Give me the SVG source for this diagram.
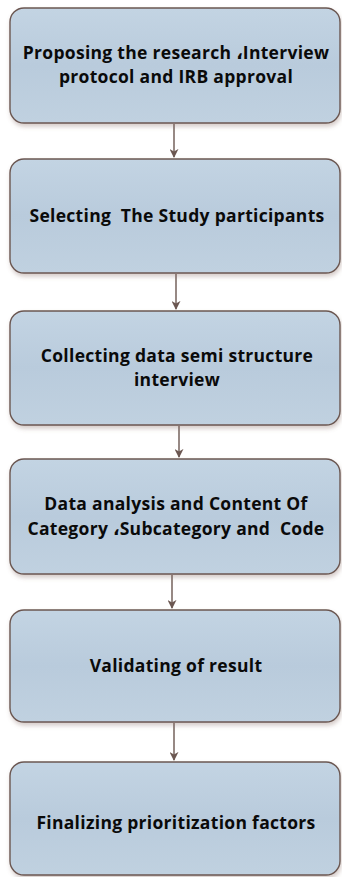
<svg xmlns="http://www.w3.org/2000/svg" width="342" height="877" viewBox="0 0 342 877">
  <style>
    .box { fill: url(#boxFill); stroke: #6b5751; stroke-width: 1.4; filter: url(#shadow); }
    .label { font-family: "Open Sans", "Noto Sans", "DejaVu Sans", sans-serif; font-weight: 700; font-size: 17.5px; letter-spacing: 0.3px; fill: #0a0a0a; text-anchor: middle; white-space: pre; }
    .link { stroke: #6b5751; stroke-width: 1.4; fill: none; marker-end: url(#arrow); }
  </style>
  <defs>
    <linearGradient id="boxFill" x1="0" y1="0" x2="0" y2="1">
      <stop offset="0" stop-color="#c3d4e3"/>
      <stop offset="0.5" stop-color="#b9cbdc"/>
      <stop offset="1" stop-color="#c0d1e0"/>
    </linearGradient>
    <filter id="shadow" x="-5%" y="-5%" width="110%" height="120%">
      <feGaussianBlur in="SourceAlpha" stdDeviation="2"/>
      <feOffset dx="1" dy="3" result="blur"/>
      <feFlood flood-color="#8a6f68" flood-opacity="0.35"/>
      <feComposite in2="blur" operator="in"/>
      <feMerge>
        <feMergeNode/>
        <feMergeNode in="SourceGraphic"/>
      </feMerge>
    </filter>
    <marker id="arrow" viewBox="0 0 10 10" refX="9" refY="5" markerWidth="9" markerHeight="9" markerUnits="userSpaceOnUse" orient="auto">
      <path d="M0,0 L10,5 L0,10 L3,5 Z" fill="#6b5751"/>
    </marker>
  </defs>

  <g id="connectors">
    <line class="link" x1="174" y1="124" x2="174" y2="157"/>
    <line class="link" x1="176" y1="274" x2="176" y2="309"/>
    <line class="link" x1="179" y1="426" x2="179" y2="457"/>
    <line class="link" x1="172" y1="575" x2="172" y2="608"/>
    <line class="link" x1="174" y1="723" x2="174" y2="760"/>
  </g>

  <g id="step1">
    <rect class="box" x="10" y="8" width="330" height="115" rx="14"/>
    <text class="label" x="176" y="59">Proposing the research ،Interview</text>
    <text class="label" x="176" y="83">protocol and IRB approval</text>
  </g>

  <g id="step2">
    <rect class="box" x="10" y="159" width="330" height="114" rx="14"/>
    <text class="label" x="177" y="222" xml:space="preserve">Selecting  The Study participants</text>
  </g>

  <g id="step3">
    <rect class="box" x="10" y="311" width="330" height="114" rx="14"/>
    <text class="label" x="177" y="362">Collecting data semi structure</text>
    <text class="label" x="177" y="386">interview</text>
  </g>

  <g id="step4">
    <rect class="box" x="10" y="459" width="330" height="115" rx="14"/>
    <text class="label" x="176" y="510">Data analysis and Content Of</text>
    <text class="label" x="176" y="535" xml:space="preserve">Category ،Subcategory and  Code</text>
  </g>

  <g id="step5">
    <rect class="box" x="10" y="610" width="330" height="112" rx="14"/>
    <text class="label" x="176" y="672">Validating of result</text>
  </g>

  <g id="step6">
    <rect class="box" x="10" y="762" width="330" height="113" rx="14"/>
    <text class="label" x="176" y="829">Finalizing prioritization factors</text>
  </g>
</svg>
